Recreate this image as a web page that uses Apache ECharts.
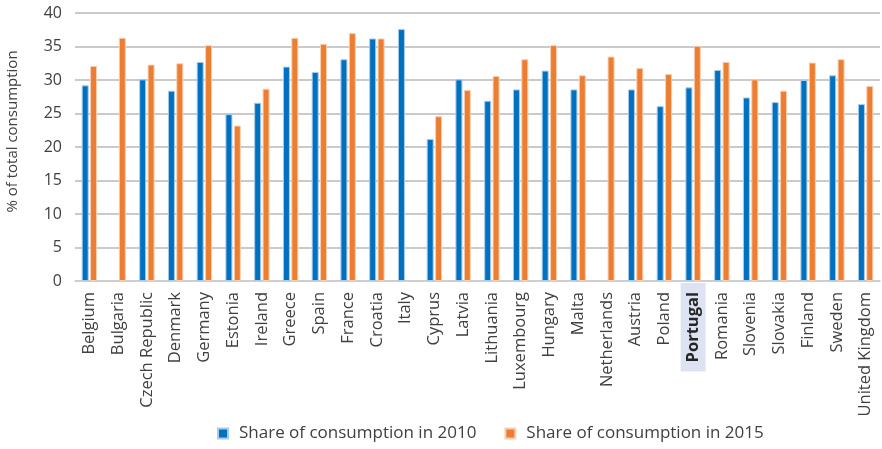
<!DOCTYPE html>
<html>
<head>
<meta charset="utf-8">
<script src="https://cdn.jsdelivr.net/npm/echarts@6/dist/echarts.min.js"></script>
<style>
  html, body { margin: 0; padding: 0; background: #fff; }
  #chart { width: 882px; height: 449px; }
</style>
</head>
<body>
<div id="chart"></div>
<script>
const countries = ["Belgium", "Bulgaria", "Czech Republic", "Denmark", "Germany", "Estonia", "Ireland", "Greece", "Spain", "France", "Croatia", "Italy", "Cyprus", "Latvia", "Lithuania", "Luxembourg", "Hungary", "Malta", "Netherlands", "Austria", "Poland", "Portugal", "Romania", "Slovenia", "Slovakia", "Finland", "Sweden", "United Kingdom"];
const share2010 = [29.2, null, 30.1, 28.4, 32.7, 24.9, 26.6, 32.0, 31.2, 33.1, 36.2, 37.6, 21.2, 30.1, 26.9, 28.6, 31.4, 28.6, null, 28.6, 26.1, 28.9, 31.5, 27.4, 26.7, 30.0, 30.7, 26.4];
const share2015 = [32.1, 36.3, 32.3, 32.5, 35.2, 23.2, 28.7, 36.3, 35.4, 37.0, 36.2, null, 24.6, 28.5, 30.6, 33.1, 35.2, 30.7, 33.5, 31.8, 30.9, 35.1, 32.7, 30.1, 28.4, 32.6, 33.1, 29.1];
const yTicks = [0, 40, 5];
const highlight = "Portugal";

const font = "Open Sans";
const textColor = "#404040";

let myChart = echarts.init(document.getElementById("chart"));
let option = {
  animation: false,
  textStyle: { fontFamily: font },
  grid: {
    left: 75,
    right: 2,
    top: 13,
    bottom: 168,
    outerBoundsMode: "none",
    containLabel: false
  },
  legend: {
    bottom: 2,
    left: 212,
    itemWidth: 10,
    itemHeight: 10,
    itemGap: 28,
    icon: "rect",
    textStyle: {
      color: textColor,
      fontSize: 17,
      fontFamily: font,
      padding: [0, 0, 0, 6]
    },
    data: ["Share of consumption in 2010", "Share of consumption in 2015"]
  },
  xAxis: {
    type: "category",
    data: countries,
    axisTick: { show: false },
    axisLine: {
      lineStyle: { color: "#d0d0d0", width: 1.5 }
    },
    axisLabel: {
      rotate: 90,
      interval: 0,
      margin: 2,
      color: textColor,
      fontSize: 16.5,
      fontFamily: font,
      formatter: function(v) {
        return v === highlight ? "{hl|" + v + "}" : "{n|" + v + "}";
      },
      rich: {
        n: {
          fontSize: 16.5,
          fontFamily: font,
          color: textColor,
          padding: [0, 9, 0, 0]
        },
        hl: {
          fontWeight: "bold",
          fontSize: 16.5,
          fontFamily: font,
          color: "#262626",
          backgroundColor: "#dde3f2",
          padding: [4, 9, 4, 9]
        }
      }
    }
  },
  yAxis: {
    type: "value",
    min: yTicks[0],
    max: yTicks[1],
    interval: yTicks[2],
    name: "% of total consumption",
    nameLocation: "middle",
    nameGap: 55,
    nameTextStyle: {
      color: textColor,
      fontSize: 15,
      fontFamily: font,
      padding: [0, 0, 0, 31]
    },
    axisLine: { show: false },
    axisTick: { show: false },
    axisLabel: {
      color: textColor,
      fontSize: 16,
      margin: 13,
      fontFamily: font
    },
    splitLine: {
      lineStyle: { color: "#b8b8b8", width: 1.5 }
    }
  },
  series: [
    {
      name: "Share of consumption in 2010",
      type: "bar",
      data: share2010,
      barWidth: 7,
      barGap: "20%",
      itemStyle: {
        color: "#0070C0",
        borderColor: "#a9cbe8",
        borderWidth: 1
      }
    },
    {
      name: "Share of consumption in 2015",
      type: "bar",
      data: share2015,
      barWidth: 7,
      itemStyle: {
        color: "#ED7D31",
        borderColor: "#f7cfb3",
        borderWidth: 1
      }
    }
  ]
};
myChart.setOption(option);
</script>
</body>
</html>
